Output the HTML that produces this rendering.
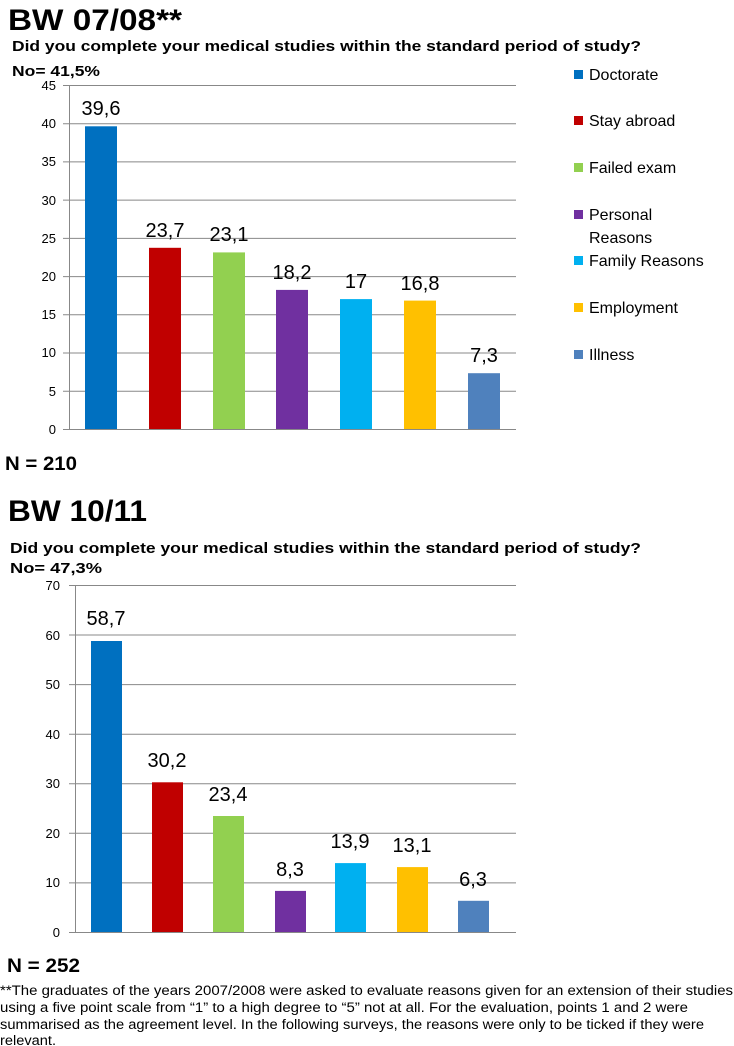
<!DOCTYPE html>
<html><head><meta charset="utf-8"><style>
html,body{margin:0;padding:0;background:#fff;}
svg{display:block;}
text{font-family:"Liberation Sans",sans-serif;fill:#000;}
</style></head><body>
<svg width="734" height="1046" viewBox="0 0 734 1046" xmlns="http://www.w3.org/2000/svg">
<text x="8" y="30" font-size="30" font-weight="bold" textLength="174" lengthAdjust="spacingAndGlyphs">BW 07/08**</text>
<text x="12" y="51" font-size="15" font-weight="bold" textLength="629" lengthAdjust="spacingAndGlyphs">Did you complete your medical  studies within the standard period of study?</text>
<text x="12" y="76" font-size="15" font-weight="bold" textLength="88" lengthAdjust="spacingAndGlyphs">No= 41,5%</text>
<g stroke="#888" stroke-width="1">
<line x1="63" y1="85.5" x2="516" y2="85.5"/>
<line x1="63" y1="123.7" x2="516" y2="123.7"/>
<line x1="63" y1="161.9" x2="516" y2="161.9"/>
<line x1="63" y1="200.1" x2="516" y2="200.1"/>
<line x1="63" y1="238.4" x2="516" y2="238.4"/>
<line x1="63" y1="276.6" x2="516" y2="276.6"/>
<line x1="63" y1="314.8" x2="516" y2="314.8"/>
<line x1="63" y1="353" x2="516" y2="353"/>
<line x1="63" y1="391.2" x2="516" y2="391.2"/>
<line x1="63" y1="429.5" x2="516" y2="429.5"/>
<line x1="69.5" y1="85" x2="69.5" y2="430"/>
</g>
<g font-size="13" text-anchor="end">
<text x="56" y="90">45</text><text x="56" y="128">40</text><text x="56" y="166">35</text>
<text x="56" y="205">30</text><text x="56" y="243">25</text><text x="56" y="281">20</text>
<text x="56" y="319">15</text><text x="56" y="357">10</text><text x="56" y="396">5</text>
<text x="56" y="434">0</text>
</g>
<rect x="85" y="126.3" width="32" height="302.7" fill="#0070C0"/>
<rect x="149" y="247.8" width="32" height="181.2" fill="#C00000"/>
<rect x="213" y="252.4" width="32" height="176.6" fill="#92D050"/>
<rect x="276" y="289.9" width="32" height="139.1" fill="#7030A0"/>
<rect x="340" y="299.1" width="32" height="129.9" fill="#00B0F0"/>
<rect x="404" y="300.6" width="32" height="128.4" fill="#FFC000"/>
<rect x="468" y="373.2" width="32" height="55.8" fill="#4F81BD"/>
<g font-size="20" text-anchor="middle">
<text x="101" y="115">39,6</text>
<text x="165" y="237">23,7</text>
<text x="229" y="241">23,1</text>
<text x="292" y="279">18,2</text>
<text x="356" y="288">17</text>
<text x="420" y="290">16,8</text>
<text x="484" y="362">7,3</text>
</g>
<g font-size="16">
<rect x="574" y="70" width="9" height="9" fill="#0070C0"/><text x="589" y="80">Doctorate</text>
<rect x="574" y="116" width="9" height="9" fill="#C00000"/><text x="589" y="126">Stay abroad</text>
<rect x="574" y="163" width="9" height="9" fill="#92D050"/><text x="589" y="173">Failed exam</text>
<rect x="574" y="210" width="9" height="9" fill="#7030A0"/><text x="589" y="220">Personal</text><text x="589" y="243">Reasons</text>
<rect x="574" y="256" width="9" height="9" fill="#00B0F0"/><text x="589" y="266">Family Reasons</text>
<rect x="574" y="303" width="9" height="9" fill="#FFC000"/><text x="589" y="313">Employment</text>
<rect x="574" y="350" width="9" height="9" fill="#4F81BD"/><text x="589" y="360">Illness</text>
</g>
<text x="5" y="470" font-size="19" font-weight="bold" textLength="72" lengthAdjust="spacingAndGlyphs">N = 210</text>
<text x="8" y="521" font-size="30" font-weight="bold" textLength="139" lengthAdjust="spacingAndGlyphs">BW 10/11</text>
<text x="10" y="553" font-size="15" font-weight="bold" textLength="631" lengthAdjust="spacingAndGlyphs">Did you complete your medical  studies within the standard period of study?</text>
<text x="10" y="573" font-size="15" font-weight="bold" textLength="92" lengthAdjust="spacingAndGlyphs">No=  47,3%</text>
<g stroke="#888" stroke-width="1">
<line x1="69" y1="585.5" x2="516" y2="585.5"/>
<line x1="69" y1="635" x2="516" y2="635"/>
<line x1="69" y1="684.6" x2="516" y2="684.6"/>
<line x1="69" y1="734.2" x2="516" y2="734.2"/>
<line x1="69" y1="783.7" x2="516" y2="783.7"/>
<line x1="69" y1="833.3" x2="516" y2="833.3"/>
<line x1="69" y1="882.9" x2="516" y2="882.9"/>
<line x1="69" y1="932.5" x2="516" y2="932.5"/>
<line x1="75.5" y1="585" x2="75.5" y2="933"/>
</g>
<g font-size="13" text-anchor="end">
<text x="60" y="590">70</text><text x="60" y="640">60</text><text x="60" y="689">50</text>
<text x="60" y="739">40</text><text x="60" y="788">30</text><text x="60" y="838">20</text>
<text x="60" y="887">10</text><text x="60" y="937">0</text>
</g>
<rect x="91" y="641" width="31" height="291" fill="#0070C0"/>
<rect x="152" y="782.3" width="31" height="149.7" fill="#C00000"/>
<rect x="213" y="816" width="31" height="116" fill="#92D050"/>
<rect x="275" y="890.9" width="31" height="41.1" fill="#7030A0"/>
<rect x="335" y="863.1" width="31" height="68.9" fill="#00B0F0"/>
<rect x="397" y="867.1" width="31" height="64.9" fill="#FFC000"/>
<rect x="458" y="900.8" width="31" height="31.2" fill="#4F81BD"/>
<g font-size="20" text-anchor="middle">
<text x="106" y="625">58,7</text>
<text x="167" y="767">30,2</text>
<text x="228" y="801">23,4</text>
<text x="290" y="876">8,3</text>
<text x="350" y="848">13,9</text>
<text x="412" y="852">13,1</text>
<text x="473" y="886">6,3</text>
</g>
<text x="7" y="972" font-size="19" font-weight="bold" textLength="73" lengthAdjust="spacingAndGlyphs">N = 252</text>
<g font-size="13.5">
<text x="0" y="995" textLength="733" lengthAdjust="spacingAndGlyphs">**The graduates of the years 2007/2008 were asked to evaluate reasons given for an extension of their studies</text>
<text x="0" y="1012" textLength="688" lengthAdjust="spacingAndGlyphs">using a five point scale from “1” to a high degree to “5” not at all. For the evaluation, points 1 and 2 were</text>
<text x="0" y="1029" textLength="704" lengthAdjust="spacingAndGlyphs">summarised as the agreement level. In the following surveys, the reasons were only to be ticked if they were</text>
<text x="0" y="1045" textLength="56" lengthAdjust="spacingAndGlyphs">relevant.</text>
</g>
</svg>
</body></html>
